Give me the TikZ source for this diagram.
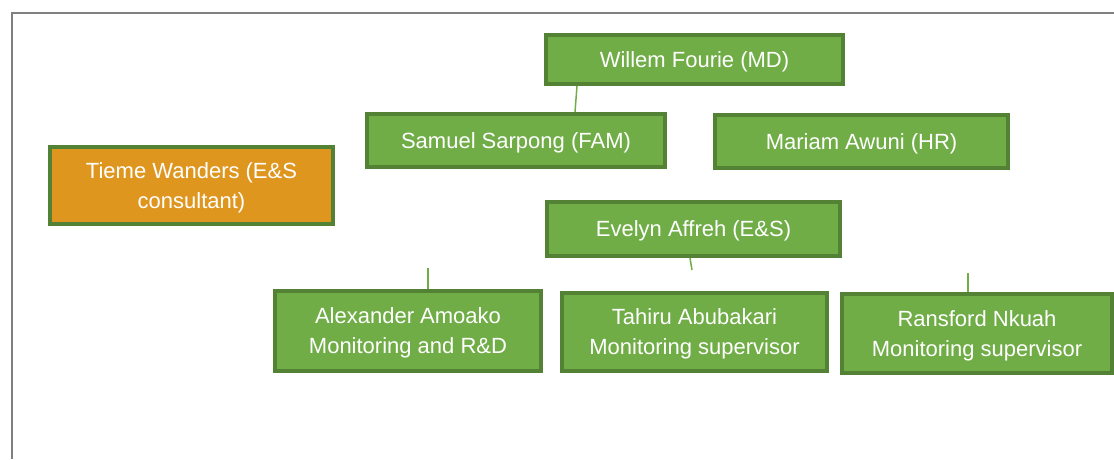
\documentclass[tikz,border=0pt]{standalone}
\usepackage{fontspec}
\setmainfont{Liberation Sans}
\usetikzlibrary{calc}
\definecolor{boxgreen}{HTML}{70AD47}
\definecolor{edgegreen}{HTML}{548235}
\definecolor{boxorange}{HTML}{DF961F}
\definecolor{framegray}{HTML}{808080}

\begin{document}
\begin{tikzpicture}[x=1pt,y=-1pt,
    person/.style={draw=edgegreen,line width=4pt,fill=boxgreen,text=white,
      align=center,inner sep=0pt,text depth=0pt,font=\fontsize{22}{30}\selectfont},
    link/.style={draw=boxgreen,line width=1.5pt}]
      \useasboundingbox (0,0) rectangle (1114,459);
      \draw[framegray,line width=1.5pt] (1114,13) -- (12,13) -- (12,459);
      \node[person,minimum width=297pt,minimum height=49pt] (willem) at (694.5,59.5) {Willem Fourie (MD)};
      \node[person,minimum width=298pt,minimum height=53pt] (samuel) at (516,140.5) {Samuel Sarpong (FAM)};
      \node[person,minimum width=293pt,minimum height=53pt] (mariam) at (861.5,141.5) {Mariam Awuni (HR)};
      \node[person,fill=boxorange,minimum width=283pt,minimum height=77pt] (tieme) at (191.5,185.5) {Tieme Wanders (E\&S\\consultant)};
      \node[person,minimum width=293pt,minimum height=54pt] (evelyn) at (693.5,229) {Evelyn Affreh (E\&S)};
      \node[person,minimum width=266pt,minimum height=80pt] (alex) at (408,331) {Alexander Amoako\\Monitoring and R\&D};
      \node[person,minimum width=265pt,minimum height=78pt] (tahiru) at (694.5,332) {Tahiru Abubakari\\Monitoring supervisor};
      \node[person,minimum width=270pt,minimum height=79pt] (ransford) at (977,333.5) {Ransford Nkuah\\Monitoring supervisor};
      \coordinate (a1) at (428,268);
      \coordinate (e1) at (692,270);
      \coordinate (r1) at (968,273);
      \draw[link] (willem.south -| 577,0) -- (samuel.north -| 575,0);
      \draw[link] (a1) -- (alex.north -| a1);
      \draw[link] (evelyn.south -| 690,0) -- (e1);
      \draw[link] (r1) -- (ransford.north -| r1);
    \end{tikzpicture}
\end{document}
